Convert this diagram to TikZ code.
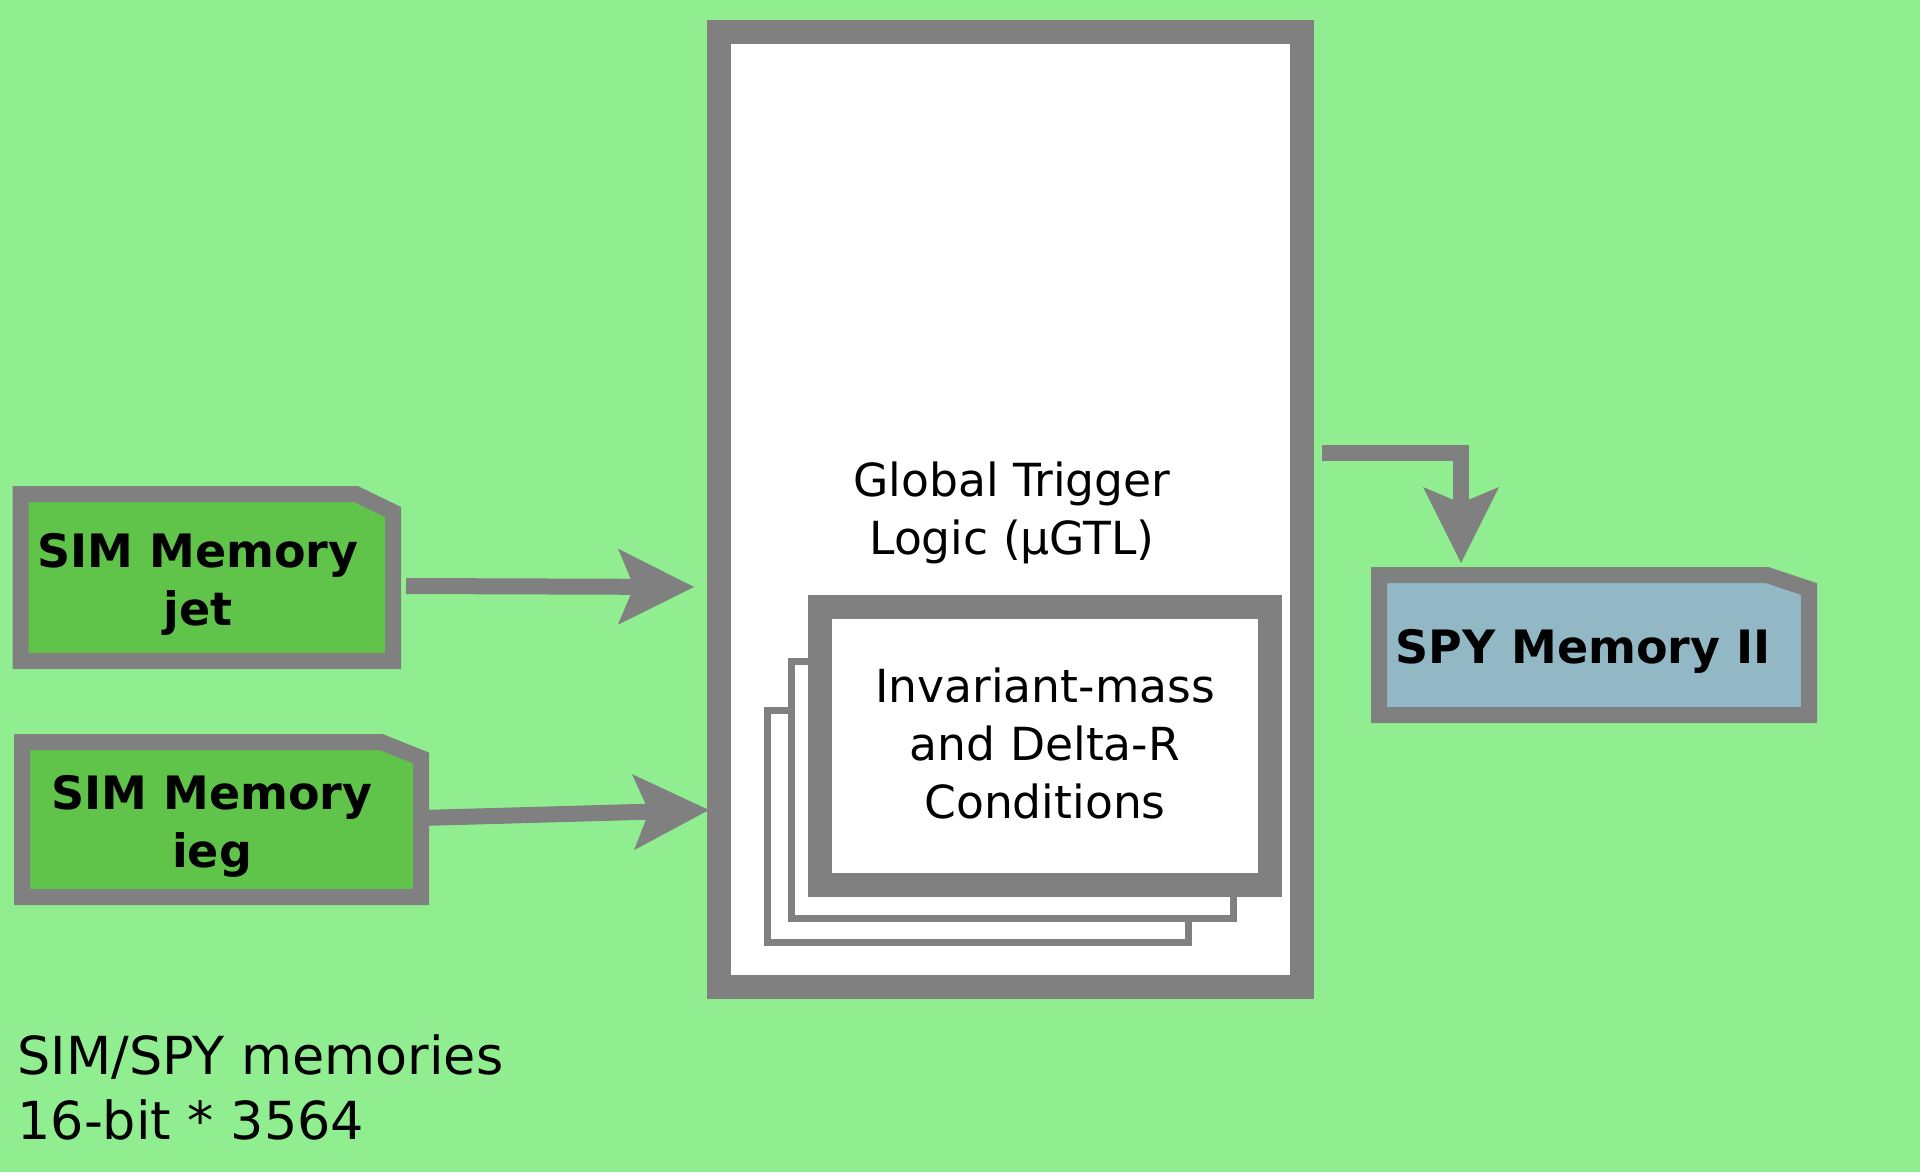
\documentclass[tikz,border=0pt]{standalone}
\usepackage{fontspec}
\setmainfont{DejaVu Sans}
\usetikzlibrary{arrows.meta}
\definecolor{bggreen}{RGB}{144,238,144}
\definecolor{memgreen}{RGB}{96,196,74}
\definecolor{spyblue}{RGB}{146,184,198}
\definecolor{edgegray}{RGB}{128,128,128}
\tikzset{
  bigframe/.style={draw=edgegray,fill=white,line width=12pt,line join=miter},
  thinframe/.style={draw=edgegray,fill=white,line width=3.5pt,line join=miter},
  membox/.style={draw=edgegray,line width=8pt,line join=miter},
  flow/.style={draw=edgegray,line width=8pt,line join=miter,
    -{Stealth[length=38pt,width=38pt,inset=8pt,line width=0pt]}},
  lbl/.style={inner sep=0pt,anchor=base,font=\fontsize{22.8}{28}\selectfont},
  blbl/.style={inner sep=0pt,anchor=base,font=\fontsize{23}{28}\selectfont\bfseries},
  captext/.style={inner sep=0pt,anchor=base west,font=\fontsize{26.2}{32}\selectfont}
}
\begin{document}
\begin{tikzpicture}[x=0.5pt,y=-0.5pt]
\useasboundingbox (0,0) rectangle (1920,1172);
\fill[bggreen] (0,0) rectangle (1920,1172);

% main block
\draw[bigframe] (719,32) rectangle (1302,987);
\node[lbl] (gtl1) at (1012,496) {Global Trigger};
\node[lbl] (gtl2) at (1012,554) {Logic (μGTL)};

% stacked condition boxes
\draw[thinframe] (767,710) rectangle (1188,942);
\draw[thinframe] (791,661) rectangle (1233,918);
\draw[bigframe] (820,607) rectangle (1270,885);
\node[lbl] (c1) at (1045,702) {Invariant-mass};
\node[lbl] (c2) at (1045,760) {and Delta-R};
\node[lbl] (c3) at (1045,818) {Conditions};

% memories
\draw[membox,fill=memgreen] (20.5,494) -- (356,494) -- (393,512) -- (393,661) -- (20.5,661) -- cycle;
\node[blbl] (jet1) at (198,567) {SIM Memory};
\node[blbl] (jet2) at (198,625) {jet};

\draw[membox,fill=memgreen] (22,742) -- (381,742) -- (421,758) -- (421,897) -- (22,897) -- cycle;
\node[blbl] (ieg1) at (212,809) {SIM Memory};
\node[blbl] (ieg2) at (212,867) {ieg};

\draw[membox,fill=spyblue] (1379,575) -- (1767,575) -- (1809,589) -- (1809,715) -- (1379,715) -- cycle;
\node[blbl] (spy) at (1583,663) {SPY Memory II};

% connectors
\coordinate (jetout) at (406,586);
\coordinate (jetin) at (694,587);
\coordinate (iegout) at (421,818);
\coordinate (iegin) at (709,810);
\coordinate (gtlout) at (1322,453);
\coordinate (spyin) at (1461,563);
\draw[flow] (jetout) -- (jetin);
\draw[flow] (iegout) -- (iegin);
\draw[flow] (gtlout) -| (spyin);

% caption
\node[captext] (cap1) at (17,1074) {SIM/SPY memories};
\node[captext] (cap2) at (17,1139) {16-bit * 3564};
\end{tikzpicture}
\end{document}
